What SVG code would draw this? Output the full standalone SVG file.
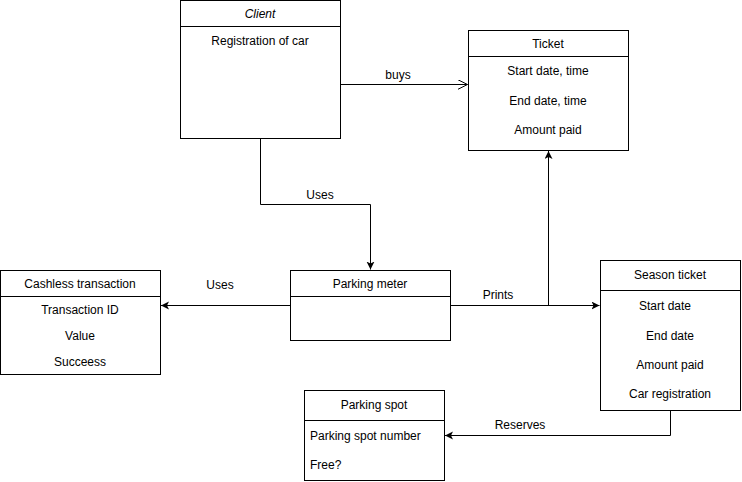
<svg xmlns="http://www.w3.org/2000/svg" width="742" height="482" viewBox="0 0 742 482">
<style>
.box{fill:#fff;stroke:#000;stroke-width:1}
.ln{fill:none;stroke:#000;stroke-width:1}
text{font-family:"Liberation Sans",Arial,sans-serif;font-size:12px;fill:#000}
.c{text-anchor:middle}
</style>
<defs>
<marker id="fill" markerWidth="10" markerHeight="10" refX="8" refY="4" orient="auto" markerUnits="userSpaceOnUse">
<path d="M0,0 L8,4 L0,8 L2,4 Z" fill="#000"/>
</marker>
<marker id="open" markerWidth="12" markerHeight="12" refX="10" refY="5" orient="auto" markerUnits="userSpaceOnUse">
<path d="M0,0 L10,5 L0,10" fill="none" stroke="#000"/>
</marker>
</defs>
<rect width="742" height="482" fill="#fff"/>
<g id="connectors">
<path class="ln" d="M340.5,84.5 H467.5" marker-end="url(#open)"/>
<text class="c" x="398" y="79">buys</text>
<path class="ln" d="M260.5,138.5 V204.5 H370.5 V269.5" marker-end="url(#fill)"/>
<text class="c" x="320" y="199">Uses</text>
<path class="ln" d="M290.5,305.5 H161" marker-end="url(#fill)"/>
<text class="c" x="220" y="289">Uses</text>
<path class="ln" d="M450.5,305.5 H599.5" marker-end="url(#fill)"/>
<path class="ln" d="M548.5,305.5 V151" marker-end="url(#fill)"/>
<text class="c" x="498" y="299">Prints</text>
<path class="ln" d="M670.5,410.5 V435.5 H445" marker-end="url(#fill)"/>
<text class="c" x="520" y="429">Reserves</text>
</g>
<g id="client">
<rect class="box" x="180.5" y="0.5" width="160" height="138"/>
<path class="ln" d="M180.5,26.5 H340.5"/>
<text class="c" x="260" y="18" font-style="italic">Client</text>
<text class="c" x="260" y="45">Registration of car</text>
</g>
<g id="ticket">
<rect class="box" x="468.5" y="30.5" width="160" height="120"/>
<path class="ln" d="M468.5,56.5 H628.5"/>
<text class="c" x="548" y="48">Ticket</text>
<text class="c" x="548" y="75">Start date, time</text>
<text class="c" x="548" y="105">End date, time</text>
<text class="c" x="548" y="134">Amount paid</text>
</g>
<g id="parking-meter">
<rect class="box" x="290.5" y="270.5" width="160" height="70"/>
<path class="ln" d="M290.5,296.5 H450.5"/>
<text class="c" x="370" y="288">Parking meter</text>
</g>
<g id="cashless">
<rect class="box" x="0.5" y="270.5" width="160" height="104"/>
<path class="ln" d="M0.5,296.5 H160.5"/>
<text class="c" x="80" y="288">Cashless transaction</text>
<text class="c" x="80" y="314">Transaction ID</text>
<text class="c" x="80" y="340">Value</text>
<text class="c" x="80" y="366">Succeess</text>
</g>
<g id="season-ticket">
<rect class="box" x="600.5" y="260.5" width="140" height="150"/>
<path class="ln" d="M600.5,290.5 H740.5"/>
<text class="c" x="670" y="279">Season ticket</text>
<text class="c" x="665" y="310">Start date</text>
<text class="c" x="670" y="340">End date</text>
<text class="c" x="670" y="369">Amount paid</text>
<text class="c" x="670" y="398">Car registration</text>
</g>
<g id="parking-spot">
<rect class="box" x="304.5" y="390.5" width="140" height="90"/>
<path class="ln" d="M304.5,420.5 H444.5"/>
<text class="c" x="374" y="409">Parking spot</text>
<text x="310" y="440">Parking spot number</text>
<text x="310" y="469">Free?</text>
</g>
</svg>
